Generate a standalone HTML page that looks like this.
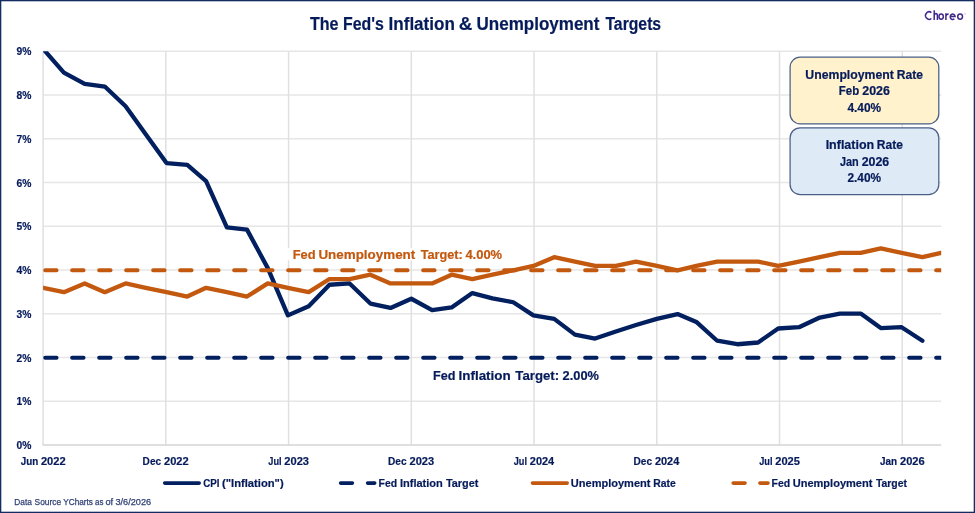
<!DOCTYPE html>
<html><head><meta charset="utf-8"><title>The Fed's Inflation &amp; Unemployment Targets</title>
<style>html,body{margin:0;padding:0;background:#fff;width:975px;height:513px;overflow:hidden}
svg{display:block;font-family:"Liberation Sans",sans-serif;will-change:transform}</style></head>
<body>
<svg width="975" height="513" viewBox="0 0 975 513">
<defs><clipPath id="pc"><rect x="43.10" y="51.25" width="898.10" height="393.75"/></clipPath></defs>
<rect width="975" height="513" fill="#ffffff"/>
<line x1="43.10" y1="401.25" x2="941.20" y2="401.25" stroke="#e6e6e6" stroke-width="1.3"/>
<line x1="43.10" y1="357.50" x2="941.20" y2="357.50" stroke="#e6e6e6" stroke-width="1.3"/>
<line x1="43.10" y1="313.75" x2="941.20" y2="313.75" stroke="#e6e6e6" stroke-width="1.3"/>
<line x1="43.10" y1="270.00" x2="941.20" y2="270.00" stroke="#e6e6e6" stroke-width="1.3"/>
<line x1="43.10" y1="226.25" x2="941.20" y2="226.25" stroke="#e6e6e6" stroke-width="1.3"/>
<line x1="43.10" y1="182.50" x2="941.20" y2="182.50" stroke="#e6e6e6" stroke-width="1.3"/>
<line x1="43.10" y1="138.75" x2="941.20" y2="138.75" stroke="#e6e6e6" stroke-width="1.3"/>
<line x1="43.10" y1="95.00" x2="941.20" y2="95.00" stroke="#e6e6e6" stroke-width="1.3"/>
<line x1="43.10" y1="51.25" x2="941.20" y2="51.25" stroke="#e6e6e6" stroke-width="1.3"/>
<line x1="43.10" y1="51.25" x2="43.10" y2="445.00" stroke="#e0e0e0" stroke-width="1.5"/>
<line x1="165.84" y1="51.25" x2="165.84" y2="445.00" stroke="#e0e0e0" stroke-width="1.5"/>
<line x1="288.58" y1="51.25" x2="288.58" y2="445.00" stroke="#e0e0e0" stroke-width="1.5"/>
<line x1="411.31" y1="51.25" x2="411.31" y2="445.00" stroke="#e0e0e0" stroke-width="1.5"/>
<line x1="534.05" y1="51.25" x2="534.05" y2="445.00" stroke="#e0e0e0" stroke-width="1.5"/>
<line x1="656.79" y1="51.25" x2="656.79" y2="445.00" stroke="#e0e0e0" stroke-width="1.5"/>
<line x1="779.53" y1="51.25" x2="779.53" y2="445.00" stroke="#e0e0e0" stroke-width="1.5"/>
<line x1="902.27" y1="51.25" x2="902.27" y2="445.00" stroke="#e0e0e0" stroke-width="1.5"/>
<line x1="42.60" y1="445.00" x2="941.20" y2="445.00" stroke="#d4d4d4" stroke-width="1.6"/>
<rect x="286" y="247.8" width="220" height="12.6" fill="#ffffff"/>
<g clip-path="url(#pc)">
<path d="M43.10 48.93 L63.89 72.55 L84.68 83.93 L104.80 86.55 L125.60 106.24 L145.72 134.24 L166.51 163.11 L187.30 164.86 L206.08 181.05 L226.87 227.42 L246.99 229.61 L267.78 268.11 L287.91 315.36 L308.70 306.18 L329.49 284.74 L349.61 283.43 L370.40 303.55 L390.52 307.93 L411.31 298.74 L432.11 310.11 L451.56 307.49 L472.35 293.05 L492.47 298.30 L513.26 302.24 L533.38 315.36 L554.17 318.86 L574.97 334.61 L595.09 338.55 L615.88 331.55 L636.00 324.99 L656.79 318.86 L677.58 314.05 L696.36 321.93 L717.15 340.74 L737.27 344.24 L758.07 342.49 L778.19 328.49 L798.98 327.18 L819.77 317.55 L839.89 313.61 L860.68 313.61 L880.80 328.05 L901.60 327.18 L922.39 340.74" fill="none" stroke="#02205f" stroke-width="4.3" stroke-linejoin="round" stroke-linecap="round"/>
<line x1="45.10" y1="357.80" x2="941.20" y2="357.80" stroke="#02205f" stroke-width="3.9" stroke-linecap="round" stroke-dasharray="11.5 15.5"/>
<path d="M43.10 287.80 L63.89 292.18 L84.68 283.43 L104.80 292.18 L125.60 283.43 L145.72 287.80 L166.51 292.18 L187.30 296.55 L206.08 287.80 L226.87 292.18 L246.99 296.55 L267.78 283.43 L287.91 287.80 L308.70 292.18 L329.49 279.05 L349.61 279.05 L370.40 274.68 L390.52 283.43 L411.31 283.43 L432.11 283.43 L451.56 274.68 L472.35 279.05 L492.47 274.68 L513.26 270.30 L533.38 265.93 L554.17 257.18 L574.97 261.55 L595.09 265.93 L615.88 265.93 L636.00 261.55 L656.79 265.93 L677.58 270.30 L696.36 265.93 L717.15 261.55 L737.27 261.55 L758.07 261.55 L778.19 265.93 L798.98 261.55 L819.77 257.18 L839.89 252.80 L860.68 252.80 L880.80 248.43 L901.60 252.80 L922.39 257.18 L941.17 252.80" fill="none" stroke="#c3580f" stroke-width="4.3" stroke-linejoin="round" stroke-linecap="round"/>
<line x1="45.10" y1="270.30" x2="941.20" y2="270.30" stroke="#c3580f" stroke-width="3.9" stroke-linecap="round" stroke-dasharray="11.5 15.5"/>
</g>
<text x="31.50" y="449.10" font-size="11.40" textLength="14.90" lengthAdjust="spacingAndGlyphs" text-anchor="end" fill="#061b5a" font-weight="bold" stroke="#061b5a" stroke-width="0.2">0%</text>
<text x="31.50" y="405.35" font-size="11.40" textLength="14.90" lengthAdjust="spacingAndGlyphs" text-anchor="end" fill="#061b5a" font-weight="bold" stroke="#061b5a" stroke-width="0.2">1%</text>
<text x="31.50" y="361.60" font-size="11.40" textLength="14.90" lengthAdjust="spacingAndGlyphs" text-anchor="end" fill="#061b5a" font-weight="bold" stroke="#061b5a" stroke-width="0.2">2%</text>
<text x="31.50" y="317.85" font-size="11.40" textLength="14.90" lengthAdjust="spacingAndGlyphs" text-anchor="end" fill="#061b5a" font-weight="bold" stroke="#061b5a" stroke-width="0.2">3%</text>
<text x="31.50" y="274.10" font-size="11.40" textLength="14.90" lengthAdjust="spacingAndGlyphs" text-anchor="end" fill="#061b5a" font-weight="bold" stroke="#061b5a" stroke-width="0.2">4%</text>
<text x="31.50" y="230.35" font-size="11.40" textLength="14.90" lengthAdjust="spacingAndGlyphs" text-anchor="end" fill="#061b5a" font-weight="bold" stroke="#061b5a" stroke-width="0.2">5%</text>
<text x="31.50" y="186.60" font-size="11.40" textLength="14.90" lengthAdjust="spacingAndGlyphs" text-anchor="end" fill="#061b5a" font-weight="bold" stroke="#061b5a" stroke-width="0.2">6%</text>
<text x="31.50" y="142.85" font-size="11.40" textLength="14.90" lengthAdjust="spacingAndGlyphs" text-anchor="end" fill="#061b5a" font-weight="bold" stroke="#061b5a" stroke-width="0.2">7%</text>
<text x="31.50" y="99.10" font-size="11.40" textLength="14.90" lengthAdjust="spacingAndGlyphs" text-anchor="end" fill="#061b5a" font-weight="bold" stroke="#061b5a" stroke-width="0.2">8%</text>
<text x="31.50" y="55.35" font-size="11.40" textLength="14.90" lengthAdjust="spacingAndGlyphs" text-anchor="end" fill="#061b5a" font-weight="bold" stroke="#061b5a" stroke-width="0.2">9%</text>
<text x="20.75" y="464.60" font-size="11.00" textLength="17.46" lengthAdjust="spacingAndGlyphs" fill="#061b5a" stroke="#061b5a" stroke-width="0.20" font-weight="bold">Jun</text>
<text x="40.91" y="464.60" font-size="11.00" textLength="24.73" lengthAdjust="spacingAndGlyphs" fill="#061b5a" stroke="#061b5a" stroke-width="0.20" font-weight="bold">2022</text>
<text x="142.61" y="464.60" font-size="11.00" textLength="18.47" lengthAdjust="spacingAndGlyphs" fill="#061b5a" stroke="#061b5a" stroke-width="0.20" font-weight="bold">Dec</text>
<text x="164.00" y="464.60" font-size="11.00" textLength="24.73" lengthAdjust="spacingAndGlyphs" fill="#061b5a" stroke="#061b5a" stroke-width="0.20" font-weight="bold">2022</text>
<text x="268.29" y="464.60" font-size="11.00" textLength="13.29" lengthAdjust="spacingAndGlyphs" fill="#061b5a" stroke="#061b5a" stroke-width="0.20" font-weight="bold">Jul</text>
<text x="284.34" y="464.60" font-size="11.00" textLength="24.69" lengthAdjust="spacingAndGlyphs" fill="#061b5a" stroke="#061b5a" stroke-width="0.20" font-weight="bold">2023</text>
<text x="388.09" y="464.60" font-size="11.00" textLength="18.47" lengthAdjust="spacingAndGlyphs" fill="#061b5a" stroke="#061b5a" stroke-width="0.20" font-weight="bold">Dec</text>
<text x="409.48" y="464.60" font-size="11.00" textLength="24.69" lengthAdjust="spacingAndGlyphs" fill="#061b5a" stroke="#061b5a" stroke-width="0.20" font-weight="bold">2023</text>
<text x="513.76" y="464.60" font-size="11.00" textLength="13.29" lengthAdjust="spacingAndGlyphs" fill="#061b5a" stroke="#061b5a" stroke-width="0.20" font-weight="bold">Jul</text>
<text x="529.82" y="464.60" font-size="11.00" textLength="24.34" lengthAdjust="spacingAndGlyphs" fill="#061b5a" stroke="#061b5a" stroke-width="0.20" font-weight="bold">2024</text>
<text x="633.57" y="464.60" font-size="11.00" textLength="18.47" lengthAdjust="spacingAndGlyphs" fill="#061b5a" stroke="#061b5a" stroke-width="0.20" font-weight="bold">Dec</text>
<text x="654.96" y="464.60" font-size="11.00" textLength="24.34" lengthAdjust="spacingAndGlyphs" fill="#061b5a" stroke="#061b5a" stroke-width="0.20" font-weight="bold">2024</text>
<text x="759.24" y="464.60" font-size="11.00" textLength="13.29" lengthAdjust="spacingAndGlyphs" fill="#061b5a" stroke="#061b5a" stroke-width="0.20" font-weight="bold">Jul</text>
<text x="775.30" y="464.60" font-size="11.00" textLength="24.59" lengthAdjust="spacingAndGlyphs" fill="#061b5a" stroke="#061b5a" stroke-width="0.20" font-weight="bold">2025</text>
<text x="880.02" y="464.60" font-size="11.00" textLength="17.06" lengthAdjust="spacingAndGlyphs" fill="#061b5a" stroke="#061b5a" stroke-width="0.20" font-weight="bold">Jan</text>
<text x="899.98" y="464.60" font-size="11.00" textLength="24.69" lengthAdjust="spacingAndGlyphs" fill="#061b5a" stroke="#061b5a" stroke-width="0.20" font-weight="bold">2026</text>
<text x="310.02" y="29.50" font-size="17.50" textLength="28.53" lengthAdjust="spacingAndGlyphs" fill="#061b5a" stroke="#061b5a" stroke-width="0.20" font-weight="bold">The</text>
<text x="343.04" y="29.50" font-size="17.50" textLength="40.81" lengthAdjust="spacingAndGlyphs" fill="#061b5a" stroke="#061b5a" stroke-width="0.20" font-weight="bold">Fed&#x27;s</text>
<text x="388.56" y="29.50" font-size="17.50" textLength="66.30" lengthAdjust="spacingAndGlyphs" fill="#061b5a" stroke="#061b5a" stroke-width="0.20" font-weight="bold">Inflation</text>
<text x="458.78" y="29.50" font-size="17.50" textLength="13.51" lengthAdjust="spacingAndGlyphs" fill="#061b5a" stroke="#061b5a" stroke-width="0.20" font-weight="bold">&amp;</text>
<text x="476.58" y="29.50" font-size="17.50" textLength="122.83" lengthAdjust="spacingAndGlyphs" fill="#061b5a" stroke="#061b5a" stroke-width="0.20" font-weight="bold">Unemployment</text>
<text x="605.43" y="29.50" font-size="17.50" textLength="55.71" lengthAdjust="spacingAndGlyphs" fill="#061b5a" stroke="#061b5a" stroke-width="0.20" font-weight="bold">Targets</text>
<g fill="none" stroke="#41298c" stroke-width="1.5" stroke-linecap="butt"><path d="M931.4 12.6 A3.6 3.75 0 1 0 931.4 18.5"/><path d="M934.2 10.3 V20.1 M934.2 16.0 Q934.4 13.6 935.9 13.6 Q937.4 13.6 937.4 16.0 V20.1"/><ellipse cx="941.15" cy="16.6" rx="2.2" ry="2.7"/><path d="M945.9 13.2 V20.1 M945.9 16.2 Q946.1 13.9 948.7 13.9"/><path d="M950.1 16.5 H955.1 A2.45 2.7 0 1 0 954.3 18.8"/><ellipse cx="960.1" cy="16.6" rx="2.4" ry="2.7"/></g><circle cx="964.9" cy="13.8" r="0.8" fill="none" stroke="#b5b0d0" stroke-width="0.4"/>
<text x="292.64" y="259.20" font-size="13.50" textLength="22.91" lengthAdjust="spacingAndGlyphs" fill="#c3580f" stroke="#c3580f" stroke-width="0.20" font-weight="bold">Fed</text>
<text x="318.39" y="259.20" font-size="13.50" textLength="96.87" lengthAdjust="spacingAndGlyphs" fill="#c3580f" stroke="#c3580f" stroke-width="0.20" font-weight="bold">Unemployment</text>
<text x="420.66" y="259.20" font-size="13.50" textLength="42.14" lengthAdjust="spacingAndGlyphs" fill="#c3580f" stroke="#c3580f" stroke-width="0.20" font-weight="bold">Target:</text>
<text x="465.40" y="259.20" font-size="13.50" textLength="36.74" lengthAdjust="spacingAndGlyphs" fill="#c3580f" stroke="#c3580f" stroke-width="0.20" font-weight="bold">4.00%</text>
<text x="433.05" y="379.80" font-size="13.50" textLength="22.48" lengthAdjust="spacingAndGlyphs" fill="#061b5a" stroke="#061b5a" stroke-width="0.20" font-weight="bold">Fed</text>
<text x="458.50" y="379.80" font-size="13.50" textLength="52.23" lengthAdjust="spacingAndGlyphs" fill="#061b5a" stroke="#061b5a" stroke-width="0.20" font-weight="bold">Inflation</text>
<text x="515.35" y="379.80" font-size="13.50" textLength="43.79" lengthAdjust="spacingAndGlyphs" fill="#061b5a" stroke="#061b5a" stroke-width="0.20" font-weight="bold">Target:</text>
<text x="562.56" y="379.80" font-size="13.50" textLength="36.38" lengthAdjust="spacingAndGlyphs" fill="#061b5a" stroke="#061b5a" stroke-width="0.20" font-weight="bold">2.00%</text>
<rect x="790.1" y="57.2" width="148.7" height="66.6" rx="10" ry="10" fill="#fff2cc" stroke="#4a5f85" stroke-width="1.25"/>
<rect x="790.1" y="127.8" width="148.7" height="66.8" rx="10" ry="10" fill="#deebf7" stroke="#4a5f85" stroke-width="1.25"/>
<text x="805.36" y="78.80" font-size="12.00" textLength="88.49" lengthAdjust="spacingAndGlyphs" fill="#061b5a" stroke="#061b5a" stroke-width="0.20" font-weight="bold">Unemployment</text>
<text x="896.69" y="78.80" font-size="12.00" textLength="26.22" lengthAdjust="spacingAndGlyphs" fill="#061b5a" stroke="#061b5a" stroke-width="0.20" font-weight="bold">Rate</text>
<text x="838.83" y="95.40" font-size="12.00" textLength="20.33" lengthAdjust="spacingAndGlyphs" fill="#061b5a" stroke="#061b5a" stroke-width="0.20" font-weight="bold">Feb</text>
<text x="862.27" y="95.40" font-size="12.00" textLength="27.68" lengthAdjust="spacingAndGlyphs" fill="#061b5a" stroke="#061b5a" stroke-width="0.20" font-weight="bold">2026</text>
<text x="847.42" y="112.00" font-size="12.00" textLength="33.69" lengthAdjust="spacingAndGlyphs" fill="#061b5a" stroke="#061b5a" stroke-width="0.20" font-weight="bold">4.40%</text>
<text x="825.67" y="149.30" font-size="12.00" textLength="48.51" lengthAdjust="spacingAndGlyphs" fill="#061b5a" stroke="#061b5a" stroke-width="0.20" font-weight="bold">Inflation</text>
<text x="876.89" y="149.30" font-size="12.00" textLength="26.12" lengthAdjust="spacingAndGlyphs" fill="#061b5a" stroke="#061b5a" stroke-width="0.20" font-weight="bold">Rate</text>
<text x="840.04" y="165.70" font-size="12.00" textLength="18.74" lengthAdjust="spacingAndGlyphs" fill="#061b5a" stroke="#061b5a" stroke-width="0.20" font-weight="bold">Jan</text>
<text x="861.67" y="165.70" font-size="12.00" textLength="27.58" lengthAdjust="spacingAndGlyphs" fill="#061b5a" stroke="#061b5a" stroke-width="0.20" font-weight="bold">2026</text>
<text x="847.49" y="182.00" font-size="12.00" textLength="33.62" lengthAdjust="spacingAndGlyphs" fill="#061b5a" stroke="#061b5a" stroke-width="0.20" font-weight="bold">2.40%</text>
<line x1="164.70" y1="483.10" x2="199.20" y2="483.10" stroke="#02205f" stroke-width="3.6" stroke-linecap="round"/>
<text x="203.30" y="486.60" font-size="11.70" textLength="16.25" lengthAdjust="spacingAndGlyphs" fill="#061b5a" stroke="#061b5a" stroke-width="0.20" font-weight="bold">CPI</text>
<text x="222.04" y="486.60" font-size="11.70" textLength="61.62" lengthAdjust="spacingAndGlyphs" fill="#061b5a" stroke="#061b5a" stroke-width="0.20" font-weight="bold">(&quot;Inflation&quot;)</text>
<line x1="340.60" y1="483.10" x2="352.40" y2="483.10" stroke="#02205f" stroke-width="3.6" stroke-linecap="round"/>
<line x1="367.60" y1="483.10" x2="374.70" y2="483.10" stroke="#02205f" stroke-width="3.6" stroke-linecap="round"/>
<text x="378.60" y="486.60" font-size="11.70" textLength="18.48" lengthAdjust="spacingAndGlyphs" fill="#061b5a" stroke="#061b5a" stroke-width="0.20" font-weight="bold">Fed</text>
<text x="399.96" y="486.60" font-size="11.70" textLength="42.82" lengthAdjust="spacingAndGlyphs" fill="#061b5a" stroke="#061b5a" stroke-width="0.20" font-weight="bold">Inflation</text>
<text x="445.98" y="486.60" font-size="11.70" textLength="32.35" lengthAdjust="spacingAndGlyphs" fill="#061b5a" stroke="#061b5a" stroke-width="0.20" font-weight="bold">Target</text>
<line x1="532.50" y1="483.10" x2="567.20" y2="483.10" stroke="#c3580f" stroke-width="3.6" stroke-linecap="round"/>
<text x="570.84" y="486.60" font-size="11.70" textLength="79.60" lengthAdjust="spacingAndGlyphs" fill="#061b5a" stroke="#061b5a" stroke-width="0.20" font-weight="bold">Unemployment</text>
<text x="653.30" y="486.60" font-size="11.70" textLength="22.55" lengthAdjust="spacingAndGlyphs" fill="#061b5a" stroke="#061b5a" stroke-width="0.20" font-weight="bold">Rate</text>
<line x1="733.20" y1="483.10" x2="745.00" y2="483.10" stroke="#c3580f" stroke-width="3.6" stroke-linecap="round"/>
<line x1="759.90" y1="483.10" x2="768.00" y2="483.10" stroke="#c3580f" stroke-width="3.6" stroke-linecap="round"/>
<text x="771.50" y="486.60" font-size="11.70" textLength="18.59" lengthAdjust="spacingAndGlyphs" fill="#061b5a" stroke="#061b5a" stroke-width="0.20" font-weight="bold">Fed</text>
<text x="792.74" y="486.60" font-size="11.70" textLength="79.60" lengthAdjust="spacingAndGlyphs" fill="#061b5a" stroke="#061b5a" stroke-width="0.20" font-weight="bold">Unemployment</text>
<text x="875.89" y="486.60" font-size="11.70" textLength="31.04" lengthAdjust="spacingAndGlyphs" fill="#061b5a" stroke="#061b5a" stroke-width="0.20" font-weight="bold">Target</text>
<g><text x="14.32" y="504.90" font-size="9.20" textLength="17.58" lengthAdjust="spacingAndGlyphs" fill="#2e3f73" stroke="#2e3f73" stroke-width="0.25" font-weight="normal">Data</text>
<text x="34.62" y="504.90" font-size="9.20" textLength="26.55" lengthAdjust="spacingAndGlyphs" fill="#2e3f73" stroke="#2e3f73" stroke-width="0.25" font-weight="normal">Source</text>
<text x="63.32" y="504.90" font-size="9.20" textLength="29.68" lengthAdjust="spacingAndGlyphs" fill="#2e3f73" stroke="#2e3f73" stroke-width="0.25" font-weight="normal">YCharts</text>
<text x="95.07" y="504.90" font-size="9.20" textLength="8.32" lengthAdjust="spacingAndGlyphs" fill="#2e3f73" stroke="#2e3f73" stroke-width="0.25" font-weight="normal">as</text>
<text x="105.41" y="504.90" font-size="9.20" textLength="7.67" lengthAdjust="spacingAndGlyphs" fill="#2e3f73" stroke="#2e3f73" stroke-width="0.25" font-weight="normal">of</text>
<text x="115.45" y="504.90" font-size="9.20" textLength="35.75" lengthAdjust="spacingAndGlyphs" fill="#2e3f73" stroke="#2e3f73" stroke-width="0.25" font-weight="normal">3/6/2026</text></g>
<rect x="0.65" y="0.65" width="973.7" height="511.7" fill="none" stroke="#132c62" stroke-width="1.3"/>
</svg>
</body></html>
